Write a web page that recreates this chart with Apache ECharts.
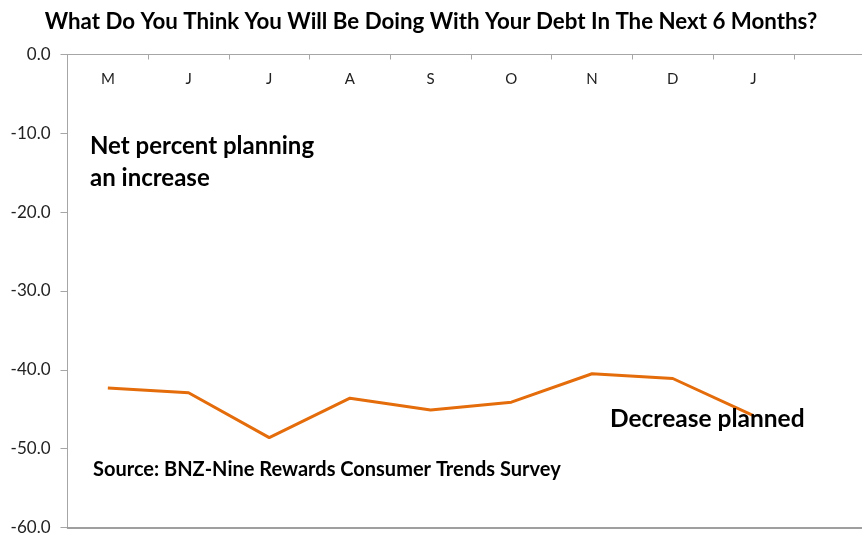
<!DOCTYPE html>
<html>
<head>
<meta charset="utf-8">
<style>
  html, body { margin: 0; padding: 0; background: #fff; overflow: hidden; }
  #chart { width: 862px; height: 533px; }
</style>
<script src="https://cdn.jsdelivr.net/npm/echarts@6/dist/echarts.min.js"></script>
</head>
<body>
<div id="chart"></div>
<script>
// Monthly survey months (one trailing empty slot keeps the axis open on the right)
const months = ['M', 'J', 'J', 'A', 'S', 'O', 'N', 'D', 'J', ''];
// Net percent planning an increase in debt over the next 6 months
const netPercent = [-42.3, -42.9, -48.6, -43.6, -45.1, -44.1, -40.5, -41.1, -45.8, null];
const yTicks = { min: -60, max: 0, step: 10 };

const FONT = 'Lato, "Open Sans", "Liberation Sans", sans-serif';

const chart = echarts.init(document.getElementById('chart'), null, { renderer: 'canvas' });

chart.setOption({
  animation: false,
  backgroundColor: '#ffffff',
  title: {
    text: 'What Do You Think You Will Be Doing With Your Debt In The Next 6 Months?',
    left: 'center',
    top: 6,
    textStyle: { fontFamily: FONT, fontSize: 22.3, fontWeight: 'bold', color: '#000' }
  },
  // the plot runs a little past the right edge of the canvas
  grid: {
    left: 67.5, top: 54.5, width: 807, bottom: 5.5,
    containLabel: false,
    outerBoundsMode: 'none'
  },
  xAxis: [
    {
      type: 'category',
      data: months,
      position: 'top',
      boundaryGap: true,
      axisLine: { onZero: false, lineStyle: { color: '#a6a6a6', width: 1 } },
      axisTick: { show: true, inside: true, length: 5, alignWithLabel: false, lineStyle: { color: '#a6a6a6' } },
      axisLabel: { inside: true, margin: 17, fontFamily: FONT, fontSize: 15, color: '#222' },
      splitLine: { show: false }
    },
    {
      type: 'category',
      data: months,
      position: 'bottom',
      axisLine: { onZero: false, lineStyle: { color: '#808080', width: 1.5 } },
      axisTick: { show: false },
      axisLabel: { show: false }
    }
  ],
  yAxis: {
    type: 'value',
    min: yTicks.min,
    max: yTicks.max,
    interval: yTicks.step,
    axisLine: { show: true, lineStyle: { color: '#a6a6a6' } },
    axisTick: { show: true, length: 7, lineStyle: { color: '#a6a6a6' } },
    axisLabel: {
      margin: 17,
      fontFamily: FONT,
      fontSize: 17,
      color: '#222',
      formatter: v => v.toFixed(1)
    },
    splitLine: { show: false }
  },
  series: [{
    type: 'line',
    data: netPercent,
    xAxisIndex: 0,
    symbol: 'none',
    lineStyle: { color: '#E46C0A', width: 3 },
    z: 2
  }],
  graphic: [
    {
      type: 'text', left: 90, top: 130, z: 10,
      style: {
        text: 'Net percent planning\nan increase',
        font: 'bold 24px ' + FONT,
        lineHeight: 32,
        fill: '#000'
      }
    },
    {
      type: 'text', left: 610, top: 407, z: 10,
      style: { text: 'Decrease planned', font: 'bold 24.5px ' + FONT, fill: '#000' }
    },
    {
      type: 'text', left: 93, top: 460, z: 10,
      style: { text: 'Source: BNZ-Nine Rewards Consumer Trends Survey', font: 'bold 20px ' + FONT, fill: '#000' }
    }
  ]
});
</script>
</body>
</html>
